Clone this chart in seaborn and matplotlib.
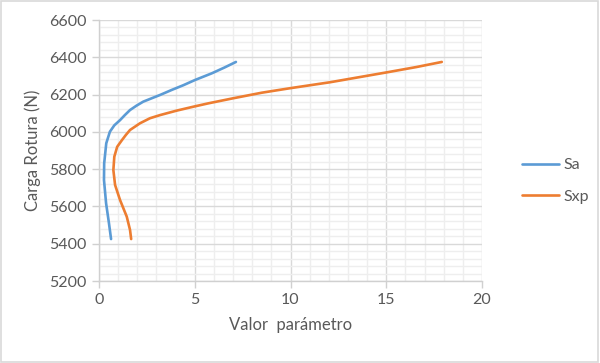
import numpy as np
import pandas as pd
import seaborn as sns
import matplotlib.pyplot as plt
from matplotlib.ticker import MultipleLocator
from matplotlib.patches import Rectangle

# ---- data ----
carga_sa = [5425, 5510, 5617, 5742, 5831, 5939, 6001, 6035, 6063, 6090, 6117, 6140,
            6162, 6198, 6225, 6250, 6278, 6314, 6345, 6375]
sa = [0.63, 0.52, 0.37, 0.26, 0.27, 0.38, 0.57, 0.80, 1.10, 1.35, 1.62, 1.95,
      2.31, 3.19, 3.80, 4.40, 5.01, 5.89, 6.55, 7.15]
carga_sxp = [5425, 5474, 5545, 5634, 5715, 5795, 5867, 5920, 5956, 5983, 6010, 6046,
             6073, 6090, 6114, 6135, 6153, 6180, 6210, 6234, 6266, 6290, 6319, 6348, 6375]
sxp = [1.68, 1.62, 1.45, 1.10, 0.84, 0.75, 0.80, 0.95, 1.20, 1.40, 1.62, 2.14,
       2.66, 3.19, 4.06, 4.93, 5.71, 7.00, 8.50, 9.97, 12.06, 13.40, 15.02, 16.59, 17.90]
series_names = ["Sa", "Sxp"]
x_ticks = [0, 5, 10, 15, 20]
y_ticks = [5200, 5400, 5600, 5800, 6000, 6200, 6400, 6600]
x_label = "Valor  parámetro"
y_label = "Carga Rotura (N)"

df = pd.concat([
    pd.DataFrame({"valor": sa, "carga": carga_sa, "serie": series_names[0]}),
    pd.DataFrame({"valor": sxp, "carga": carga_sxp, "serie": series_names[1]}),
])

sns.set_theme(style="white")
plt.rcParams["font.family"] = ["Lato", "DejaVu Sans"]

fig = plt.figure(figsize=(6.0, 3.63), dpi=100)
ax = fig.add_axes([99 / 600, 1 - 281 / 363, (482 - 99) / 600, (281 - 20) / 363])

sns.lineplot(data=df, x="valor", y="carga", hue="serie", sort=False, estimator=None,
             palette=["#5B9BD5", "#ED7D31"], linewidth=1.9, ax=ax, legend=True)
for ln in ax.get_lines():
    ln.set_solid_joinstyle("round")
    ln.set_solid_capstyle("round")

ax.set_xlim(0, 20)
ax.set_ylim(5200, 6600)
ax.set_xticks(x_ticks)
ax.set_yticks(y_ticks)
ax.xaxis.set_minor_locator(MultipleLocator(1))
ax.yaxis.set_minor_locator(MultipleLocator(40))
ax.grid(which="major", color="#d9d9d9", linewidth=1.0)
ax.grid(which="minor", color="#eeeeee", linewidth=1.0)
ax.set_axisbelow(True)
for s in ["top", "right"]:
    ax.spines[s].set_visible(False)
for s in ["left", "bottom"]:
    ax.spines[s].set_color("#d0d0d0")
    ax.spines[s].set_linewidth(1.0)
ax.tick_params(axis="both", which="major", length=5, width=1, color="#d0d0d0",
               labelcolor="#595959", labelsize=11.5, direction="out", pad=4)
ax.tick_params(which="minor", length=0)
ax.tick_params(axis="x", bottom=True)
ax.tick_params(axis="y", left=True)

ax.set_xlabel(x_label, fontsize=12, color="#595959", labelpad=7)
ax.set_ylabel(y_label, fontsize=12, color="#595959", labelpad=6)

leg = ax.legend(loc="center left", bbox_to_anchor=(508 / 600, 1 - 181 / 363),
                bbox_transform=fig.transFigure, frameon=False, fontsize=11.5,
                handlelength=2.3, handletextpad=0.3, labelspacing=1.1, title=None)
for t in leg.get_texts():
    t.set_color("#595959")

fig.patches.append(Rectangle((0.002, 0.003), 0.995, 0.993, transform=fig.transFigure,
                             fill=False, edgecolor="#d9d9d9", linewidth=1.2))

fig.savefig("out.png", dpi=100, facecolor="white")
